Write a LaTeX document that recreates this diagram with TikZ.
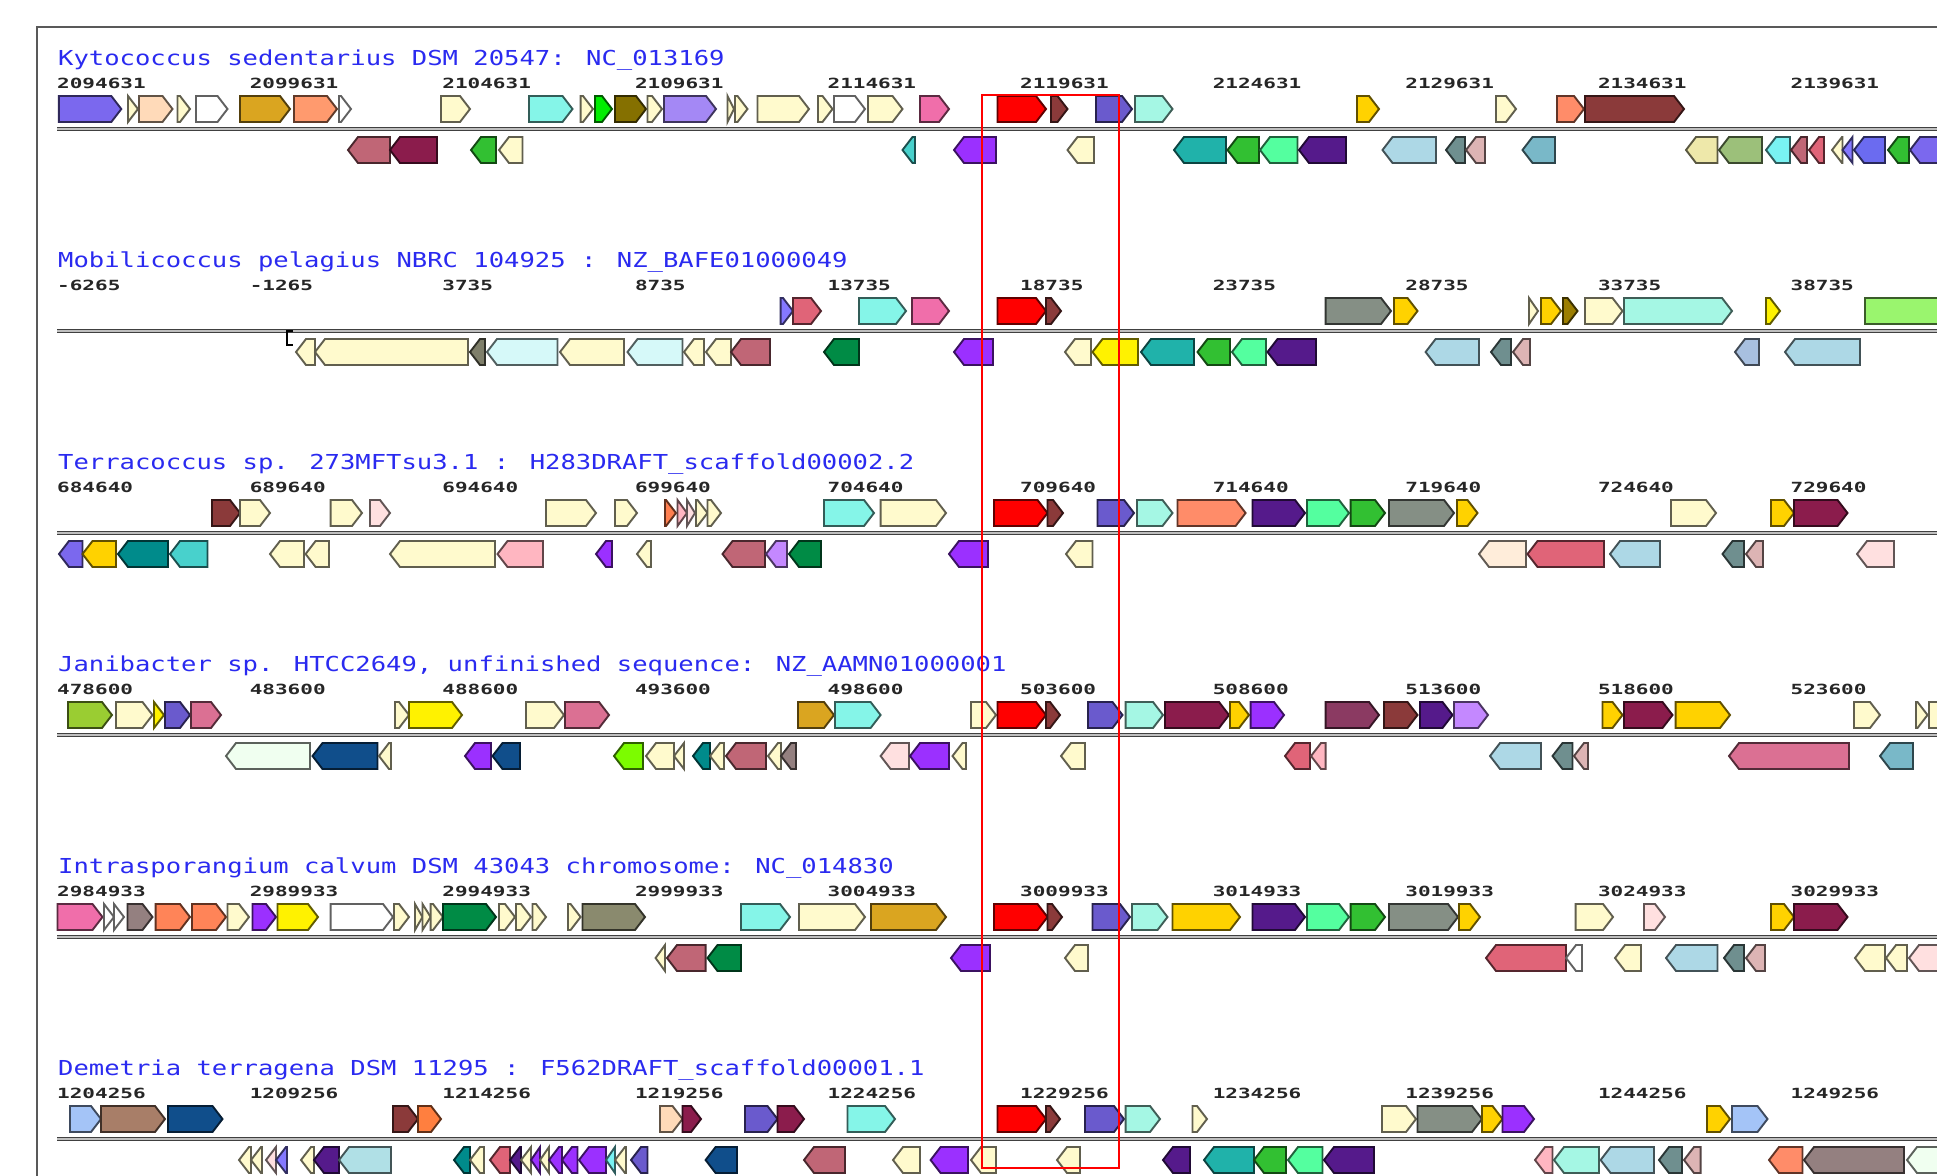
\documentclass[tikz,border=0pt]{standalone}
\usepackage{fontspec}
\newfontfamily\gmono{DejaVu Sans Mono}
\definecolor{ttlblue}{HTML}{2A2AF0}
\definecolor{mslate}{HTML}{7B68EE}
\definecolor{sblue}{HTML}{6A5ACD}
\definecolor{lslate}{HTML}{8478FF}
\definecolor{blueish}{HTML}{6B6BF0}
\definecolor{beige}{HTML}{FFFACD}
\definecolor{peach}{HTML}{FFDAB9}
\definecolor{golden}{HTML}{DAA520}
\definecolor{lsalmon}{HTML}{FF9A6E}
\definecolor{coral}{HTML}{FF8C69}
\definecolor{salmon}{HTML}{FF8458}
\definecolor{aqua}{HTML}{85F5E8}
\definecolor{paqua}{HTML}{A5F7E4}
\definecolor{lime}{HTML}{00EE00}
\definecolor{olive}{HTML}{857000}
\definecolor{mpurple}{HTML}{A488F5}
\definecolor{hpink}{HTML}{F06EAA}
\definecolor{gred}{HTML}{FF0000}
\definecolor{dbrown}{HTML}{8B3A3A}
\definecolor{gold}{HTML}{FFD200}
\definecolor{dgold}{HTML}{9C7E00}
\definecolor{yellow}{HTML}{FFF200}
\definecolor{rose}{HTML}{C06676}
\definecolor{maroon}{HTML}{8B1C4C}
\definecolor{plum}{HTML}{8B3A62}
\definecolor{green}{HTML}{32C032}
\definecolor{purple}{HTML}{9B30FF}
\definecolor{lavender}{HTML}{C488FF}
\definecolor{teal}{HTML}{20B2AA}
\definecolor{dteal}{HTML}{008B8B}
\definecolor{mturq}{HTML}{48D1CC}
\definecolor{mint}{HTML}{54FF9F}
\definecolor{indigo}{HTML}{551A8B}
\definecolor{lblue}{HTML}{ADD8E6}
\definecolor{cadet}{HTML}{6F8F8F}
\definecolor{rosy}{HTML}{DDB4B4}
\definecolor{cblue}{HTML}{79B8C8}
\definecolor{khaki}{HTML}{EEE8AA}
\definecolor{dsgreen}{HTML}{9CC07A}
\definecolor{cyan}{HTML}{79F2F2}
\definecolor{pinkred}{HTML}{E06478}
\definecolor{gray}{HTML}{858F85}
\definecolor{grayolive}{HTML}{7F7F6A}
\definecolor{olgray}{HTML}{8A8A6E}
\definecolor{lcyan}{HTML}{D6F9F9}
\definecolor{dgreen}{HTML}{008B45}
\definecolor{lsteel}{HTML}{A8C0E0}
\definecolor{lgreen}{HTML}{9AF56E}
\definecolor{mrose}{HTML}{FFE0E0}
\definecolor{lpink}{HTML}{FFB6C1}
\definecolor{ocoral}{HTML}{FF7F50}
\definecolor{linen}{HTML}{FFEDDA}
\definecolor{ygreen}{HTML}{9ACD32}
\definecolor{pvred}{HTML}{DB7093}
\definecolor{honeydew}{HTML}{F0FFF0}
\definecolor{dblue}{HTML}{104E8B}
\definecolor{lawn}{HTML}{7CFC00}
\definecolor{mauve}{HTML}{948080}
\definecolor{cflower}{HTML}{A4C4F7}
\definecolor{tan}{HTML}{A87E68}
\definecolor{orange}{HTML}{FF7F3F}
\definecolor{powder}{HTML}{B0E0E6}
\tikzset{
  genebox/.style={line width=1.9pt, line join=miter},
  ttl/.style={anchor=base west, inner sep=0pt, text=ttlblue, font=\gmono\fontsize{20.6}{22}\selectfont},
  tck/.style={anchor=base west, inner sep=0pt, text=black!85, font=\gmono\bfseries\fontsize{14}{14}\selectfont},
}
\newcommand\genef[3]{%
  \pgfmathsetmacro\gtipx{max(#1,#2-10)}%
  \filldraw[genebox,fill=#3,draw=#3!38!black] (#1,-33) -- (\gtipx,-33) -- (#2,-20) -- (\gtipx,-7) -- (#1,-7) -- cycle;}
\newcommand\gener[3]{%
  \pgfmathsetmacro\gtipx{min(#2,#1+10)}%
  \filldraw[genebox,fill=#3,draw=#3!38!black] (#2,8) -- (\gtipx,8) -- (#1,21) -- (\gtipx,34) -- (#2,34) -- cycle;}
\newcommand\trackhead[3]{%
  \draw[line width=4.8pt, black!75] (57,0) -- (1940,0);
  \draw[line width=1.3pt, black!25] (57,0) -- (1940,0);
  \node[ttl] (title#1) at (58,-64) {\scalebox{1.24}[1]{#2}};
  \foreach \k in {0,...,9}
    \node[tck] (tick#1-\k) at ({57+192.6*\k},-41) {\scalebox{1.5}[1]{\the\numexpr #3+5000*\k\relax}};
}
\begin{document}
\begin{tikzpicture}[x=1pt,y=-1pt]
\useasboundingbox (0,0) rectangle (1937,1175);
\clip (0,0) rectangle (1937,1175);
\fill[white] (0,0) rectangle (1937,1175);
\draw[line width=1.3pt, black!65] (37,1180) -- (37,27) -- (1940,27);

% ---------------- track 1
\begin{scope}[shift={(0,129)}]
\trackhead{1}{Kytococcus sedentarius DSM 20547: NC\_013169}{2094631}
\genef{58.8}{121.3}{mslate}
\genef{128}{138}{beige}
\genef{139}{172.5}{peach}
\genef{177.5}{190}{beige}
\genef{196}{227.5}{white}
\genef{240}{290}{golden}
\genef{294}{337}{lsalmon}
\genef{339}{351}{white}
\genef{441}{470}{beige}
\genef{529}{572.5}{aqua}
\genef{580.6}{593}{beige}
\genef{595}{612}{lime}
\genef{615}{646}{olive}
\genef{647.5}{662}{beige}
\genef{664}{716}{mpurple}
\genef{727.5}{734}{beige}
\genef{735}{747.5}{beige}
\genef{757.5}{809}{beige}
\genef{818}{832.5}{beige}
\genef{834}{865}{white}
\genef{868}{902.5}{beige}
\genef{920}{949}{hpink}
\genef{997.5}{1046}{gred}
\genef{1051}{1067.5}{dbrown}
\genef{1096}{1132}{sblue}
\genef{1135}{1172.5}{paqua}
\genef{1357}{1379}{gold}
\genef{1496}{1516}{beige}
\genef{1557}{1584}{coral}
\genef{1585}{1684}{dbrown}
\gener{348}{390}{rose}
\gener{390}{437}{maroon}
\gener{471}{496}{green}
\gener{499}{522.5}{beige}
\gener{902.5}{915}{mturq}
\gener{954}{996}{purple}
\gener{1067.5}{1094}{beige}
\gener{1174}{1226}{teal}
\gener{1227.5}{1259}{green}
\gener{1260}{1297.5}{mint}
\gener{1299}{1346}{indigo}
\gener{1382.5}{1436}{lblue}
\gener{1446}{1465}{cadet}
\gener{1466}{1485}{rosy}
\gener{1522.5}{1555}{cblue}
\gener{1686}{1717.5}{khaki}
\gener{1719}{1762}{dsgreen}
\gener{1766}{1790}{cyan}
\gener{1791}{1807}{rose}
\gener{1809}{1824}{pinkred}
\gener{1832}{1842.5}{beige}
\gener{1842.5}{1852.5}{lslate}
\gener{1854}{1885}{blueish}
\gener{1888}{1909}{green}
\gener{1910}{1960}{mslate}
\end{scope}

% ---------------- track 2
\begin{scope}[shift={(0,331)}]
\trackhead{2}{Mobilicoccus pelagius NBRC 104925 : NZ\_BAFE01000049}{-6265}
\draw[line width=1.5pt, black] (293,0) -- (287,0) -- (287,14) -- (293,14);
\genef{780.6}{793}{lslate}
\genef{793}{821}{pinkred}
\genef{859}{906}{aqua}
\genef{912}{949}{hpink}
\genef{997.5}{1046}{gred}
\genef{1046}{1061}{dbrown}
\genef{1325.6}{1391}{gray}
\genef{1394}{1417.5}{gold}
\genef{1529}{1538}{beige}
\genef{1541}{1561}{gold}
\genef{1563}{1577.5}{dgold}
\genef{1585}{1622.5}{beige}
\genef{1624}{1732}{paqua}
\genef{1766}{1780}{yellow}
\genef{1865}{1960}{lgreen}
\gener{296}{315}{beige}
\gener{315}{468}{beige}
\gener{470}{485}{grayolive}
\gener{487}{557.5}{lcyan}
\gener{560}{624}{beige}
\gener{627.5}{682.5}{lcyan}
\gener{684}{704}{beige}
\gener{706}{731}{beige}
\gener{731}{770}{rose}
\gener{824}{859}{dgreen}
\gener{954}{993}{purple}
\gener{1065}{1091}{beige}
\gener{1092.5}{1138}{yellow}
\gener{1141}{1194}{teal}
\gener{1197.5}{1230}{green}
\gener{1232}{1266}{mint}
\gener{1267.5}{1316}{indigo}
\gener{1425.6}{1479}{lblue}
\gener{1491}{1511}{cadet}
\gener{1513}{1530}{rosy}
\gener{1735}{1759}{lsteel}
\gener{1785}{1860}{lblue}
\end{scope}

% ---------------- track 3
\begin{scope}[shift={(0,533)}]
\trackhead{3}{Terracoccus sp. 273MFTsu3.1 : H283DRAFT\_scaffold00002.2}{684640}
\genef{212}{240}{dbrown}
\genef{240}{270}{beige}
\genef{330.6}{362}{beige}
\genef{370}{390}{mrose}
\genef{546}{596}{beige}
\genef{615}{637}{beige}
\genef{665}{676}{ocoral}
\genef{677.5}{687}{lpink}
\genef{687}{695}{mrose}
\genef{696}{707.5}{beige}
\genef{707.5}{721}{beige}
\genef{824}{874}{aqua}
\genef{880.6}{946}{beige}
\genef{994}{1047.5}{gred}
\genef{1047.5}{1063}{dbrown}
\genef{1097.5}{1134}{sblue}
\genef{1137}{1172.5}{paqua}
\genef{1177.5}{1245.6}{coral}
\genef{1252.5}{1305}{indigo}
\genef{1307}{1349}{mint}
\genef{1350.6}{1385}{green}
\genef{1389}{1454}{gray}
\genef{1457}{1477.5}{gold}
\genef{1671}{1716}{beige}
\genef{1771}{1794}{gold}
\genef{1794}{1847.5}{maroon}
\gener{59}{82.5}{mslate}
\gener{82.5}{116}{gold}
\gener{118}{168}{dteal}
\gener{170}{207.5}{mturq}
\gener{270}{304}{beige}
\gener{305.6}{329}{beige}
\gener{390}{495}{beige}
\gener{497.5}{543}{lpink}
\gener{596}{612}{purple}
\gener{637}{651}{beige}
\gener{722.5}{765}{rose}
\gener{766}{787}{lavender}
\gener{789}{821}{dgreen}
\gener{949}{988}{purple}
\gener{1066}{1092.5}{beige}
\gener{1479}{1526}{linen}
\gener{1527.5}{1604}{pinkred}
\gener{1610}{1660}{lblue}
\gener{1722.5}{1744}{cadet}
\gener{1746}{1763}{rosy}
\gener{1857}{1894}{mrose}
\end{scope}

% ---------------- track 4
\begin{scope}[shift={(0,735)}]
\trackhead{4}{Janibacter sp. HTCC2649, unfinished sequence: NZ\_AAMN01000001}{478600}
\genef{68}{112}{ygreen}
\genef{116}{152.5}{beige}
\genef{154}{164}{yellow}
\genef{165}{190}{sblue}
\genef{191}{221}{pvred}
\genef{395}{409}{beige}
\genef{409}{462}{yellow}
\genef{526}{564}{beige}
\genef{565}{609}{pvred}
\genef{798}{834}{golden}
\genef{835}{880.6}{aqua}
\genef{971}{996}{beige}
\genef{997.5}{1046}{gred}
\genef{1046}{1060}{dbrown}
\genef{1088}{1122.5}{sblue}
\genef{1125.6}{1163}{paqua}
\genef{1165}{1229}{maroon}
\genef{1230}{1249}{gold}
\genef{1250.6}{1284}{purple}
\genef{1325.6}{1379}{plum}
\genef{1384}{1417.5}{dbrown}
\genef{1420}{1452.5}{indigo}
\genef{1454}{1488}{lavender}
\genef{1602.5}{1622.5}{gold}
\genef{1624}{1672.5}{maroon}
\genef{1675.6}{1730}{gold}
\genef{1854}{1880}{beige}
\genef{1916}{1927.5}{beige}
\genef{1929}{1960}{beige}
\gener{226}{310}{honeydew}
\gener{312.5}{377.5}{dblue}
\gener{379}{391}{beige}
\gener{465}{491}{purple}
\gener{492.5}{520}{dblue}
\gener{614}{643}{lawn}
\gener{646}{674}{beige}
\gener{674}{684}{beige}
\gener{693}{710}{dteal}
\gener{710}{724}{beige}
\gener{726}{766}{rose}
\gener{768}{781}{beige}
\gener{781}{796}{mauve}
\gener{880.6}{909}{mrose}
\gener{910}{949}{purple}
\gener{952.5}{966}{beige}
\gener{1061}{1085}{beige}
\gener{1285}{1310}{pinkred}
\gener{1311}{1325.6}{lpink}
\gener{1490}{1541}{lblue}
\gener{1552.5}{1572.5}{cadet}
\gener{1574}{1588}{rosy}
\gener{1729}{1849}{pvred}
\gener{1880}{1913}{cblue}
\end{scope}

% ---------------- track 5
\begin{scope}[shift={(0,937)}]
\trackhead{5}{Intrasporangium calvum DSM 43043 chromosome: NC\_014830}{2984933}
\genef{57.5}{102.5}{hpink}
\genef{104}{114}{white}
\genef{114}{124}{white}
\genef{127.5}{152.5}{mauve}
\genef{155.6}{190}{salmon}
\genef{192}{226}{salmon}
\genef{227.5}{249}{beige}
\genef{252.5}{276}{purple}
\genef{277.5}{318}{yellow}
\genef{330.6}{393}{white}
\genef{394}{409}{beige}
\genef{415}{422.5}{beige}
\genef{422.5}{430.6}{beige}
\genef{430.6}{443}{beige}
\genef{443}{496}{dgreen}
\genef{499}{515}{beige}
\genef{516}{531}{beige}
\genef{532.5}{546}{beige}
\genef{568}{580.6}{beige}
\genef{582.5}{645}{olgray}
\genef{741}{790}{aqua}
\genef{799}{865}{beige}
\genef{871}{946}{golden}
\genef{994}{1047.5}{gred}
\genef{1047.5}{1062}{dbrown}
\genef{1092.5}{1130}{sblue}
\genef{1132}{1167.5}{paqua}
\genef{1172.5}{1240}{gold}
\genef{1252.5}{1305}{indigo}
\genef{1307}{1349}{mint}
\genef{1350.6}{1385}{green}
\genef{1389}{1458}{gray}
\genef{1459}{1480}{gold}
\genef{1575.6}{1613}{beige}
\genef{1644}{1665}{mrose}
\genef{1771}{1794}{gold}
\genef{1794}{1847.5}{maroon}
\gener{655.6}{665}{beige}
\gener{667}{705.6}{rose}
\gener{707.5}{741}{dgreen}
\gener{951}{990}{purple}
\gener{1065}{1088}{beige}
\gener{1486}{1566}{pinkred}
\gener{1566}{1582}{white}
\gener{1615}{1641}{beige}
\gener{1666}{1717.5}{lblue}
\gener{1724}{1744}{cadet}
\gener{1746}{1765}{rosy}
\gener{1855}{1885}{beige}
\gener{1886}{1907}{beige}
\gener{1909}{1960}{mrose}
\end{scope}

% ---------------- track 6
\begin{scope}[shift={(0,1139)}]
\trackhead{6}{Demetria terragena DSM 11295 : F562DRAFT\_scaffold00001.1}{1204256}
\genef{70}{101}{cflower}
\genef{101}{165}{tan}
\genef{168}{222.5}{dblue}
\genef{393}{418}{dbrown}
\genef{418}{441}{orange}
\genef{660}{682.5}{peach}
\genef{682.5}{701}{maroon}
\genef{745}{777.5}{sblue}
\genef{777.5}{804}{maroon}
\genef{847.5}{895}{aqua}
\genef{997.5}{1046}{gred}
\genef{1046}{1060}{dbrown}
\genef{1085}{1124}{sblue}
\genef{1125.6}{1160}{paqua}
\genef{1192.5}{1207}{beige}
\genef{1382}{1416}{beige}
\genef{1417.5}{1482}{gray}
\genef{1482}{1502.5}{gold}
\genef{1502.5}{1534}{purple}
\genef{1707}{1730}{gold}
\genef{1732}{1767.5}{cflower}
\gener{239}{251}{beige}
\gener{251}{262}{beige}
\gener{266}{276}{mrose}
\gener{276}{287}{lslate}
\gener{301}{314}{beige}
\gener{314}{339}{indigo}
\gener{339}{391}{powder}
\gener{454}{470}{dteal}
\gener{470}{484}{beige}
\gener{490}{510}{pinkred}
\gener{510}{521}{indigo}
\gener{521}{531}{beige}
\gener{531}{540}{purple}
\gener{540}{549}{beige}
\gener{549}{562}{purple}
\gener{562}{577.5}{purple}
\gener{579}{606}{purple}
\gener{606}{615}{cyan}
\gener{615}{626}{beige}
\gener{631}{647.5}{sblue}
\gener{705.6}{737}{dblue}
\gener{804}{845}{rose}
\gener{893}{920}{beige}
\gener{930.6}{968}{purple}
\gener{971}{996}{beige}
\gener{1057}{1080}{beige}
\gener{1163}{1190}{indigo}
\gener{1204}{1254}{teal}
\gener{1254}{1286}{green}
\gener{1288}{1322.5}{mint}
\gener{1324}{1374}{indigo}
\gener{1535}{1552.5}{lpink}
\gener{1554}{1599}{paqua}
\gener{1600.6}{1654}{lblue}
\gener{1659}{1682}{cadet}
\gener{1684}{1700.6}{rosy}
\gener{1769}{1802.5}{coral}
\gener{1804}{1904}{mauve}
\gener{1907}{1960}{honeydew}
\end{scope}

\draw[line width=1.4pt, red] (982,95) rectangle (1119,1168);
\end{tikzpicture}
\end{document}
